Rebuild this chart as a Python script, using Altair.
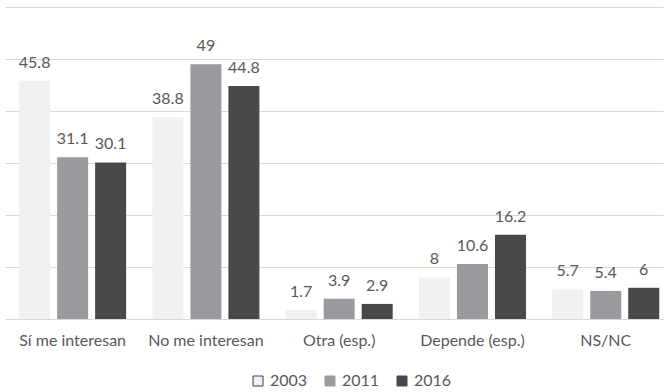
import altair as alt
import pandas as pd

categories = ["Sí me interesan", "No me interesan", "Otra (esp.)", "Depende (esp.)", "NS/NC"]
years = ["2003", "2011", "2016"]
v2003 = [45.8, 38.8, 1.7, 8, 5.7]
v2011 = [31.1, 49, 3.9, 10.6, 5.4]
v2016 = [30.1, 44.8, 2.9, 16.2, 6]

rows = []
for series, vals in zip(years, [v2003, v2011, v2016]):
    for c, v in zip(categories, vals):
        rows.append({"cat": c, "year": series, "value": v, "label": f"{v:g}"})
df = pd.DataFrame(rows)

fills = ["#f1f1f3", "#9b9b9f", "#48484a"]
strokes = ["#3c3c3c", "#9b9b9f", "#48484a"]
FONT = "Lato"
TXT = "#595959"
FS = 16

x = alt.X("cat:N", sort=categories, title=None,
          scale=alt.Scale(paddingInner=0.197, paddingOuter=0.067, align=0.79),
          axis=alt.Axis(labelFont=FONT, labelFontSize=FS, labelColor=TXT, labelPadding=13,
                        ticks=False, domain=False, labelAngle=0))
xo = alt.XOffset("year:N", sort=years, scale=alt.Scale(paddingInner=0.184, paddingOuter=0))
y = alt.Y("value:Q", scale=alt.Scale(domain=[0, 60], nice=False), title=None,
          axis=alt.Axis(values=[0, 10, 20, 30, 40, 50, 60], labels=False, ticks=False, domain=False,
                        grid=True, gridColor="#d9d9d9", gridWidth=1))

bars = alt.Chart(df).mark_bar(strokeWidth=0).encode(
    x=x, xOffset=xo, y=y,
    color=alt.Color("year:N", sort=years, scale=alt.Scale(domain=years, range=fills),
                    legend=alt.Legend(title=None, orient="none", direction="horizontal",
                                      legendX=245, legendY=366, symbolType="square", symbolSize=100,
                                      symbolStrokeWidth=1, labelFont=FONT, labelFontSize=FS,
                                      labelColor=TXT, labelOffset=4, columnPadding=14)),
    stroke=alt.Stroke("year:N", sort=years, scale=alt.Scale(domain=years, range=strokes), legend=None),
)

labels = alt.Chart(df).mark_text(font=FONT, fontSize=FS, color=TXT, baseline="alphabetic", dy=-13).encode(
    x=alt.X("cat:N", sort=categories), xOffset=alt.XOffset("year:N", sort=years), y="value:Q", text="label:N"
)

chart = alt.layer(bars, labels).properties(
    width=658, height=312,
    autosize=alt.AutoSizeParams(type="none"),
    padding={"left": 5, "top": 7, "right": 1, "bottom": 73},
).configure_view(stroke=None)

chart.save("out.html", embed_options={"renderer": "svg", "actions": False})
